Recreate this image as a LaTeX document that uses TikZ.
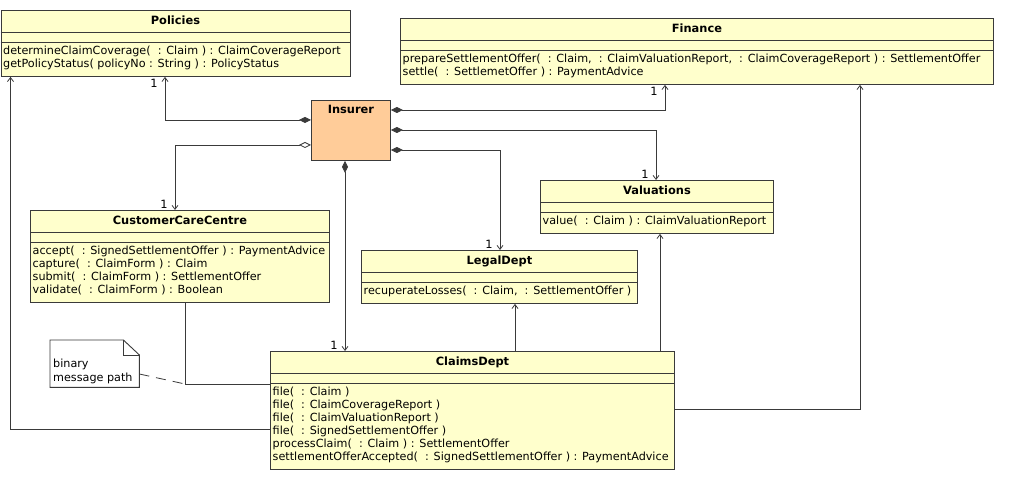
\documentclass[tikz,border=0pt]{standalone}
\usepackage{fontspec}
\setmainfont{DejaVu Sans}
\usetikzlibrary{arrows.meta,calc}

\definecolor{classfill}{HTML}{FFFFCC}
\definecolor{actorfill}{HTML}{FFCC99}
\definecolor{inkline}{HTML}{3A3A3A}

\tikzset{
  cls/.style={draw=inkline, fill=classfill, line width=0.9pt, rectangle,
    inner sep=0pt, anchor=north west},
  clstitle/.style={font=\fontsize{11.4}{13}\selectfont\bfseries, inner sep=0pt,
    text height=8.5pt, text depth=0pt},
  clsops/.style={font=\fontsize{11.2}{13.1}\selectfont, inner sep=0pt,
    anchor=north west, align=left},
  sepline/.style={draw=inkline, line width=0.9pt},
  link/.style={draw=inkline, line width=0.8pt},
  navtip/.style={link, -{Straight Barb[length=4pt,width=6pt]}},
  comp/.style={link, {Diamond[length=12pt,width=6pt,fill=inkline]}-{Straight Barb[length=4pt,width=6pt]}},
  aggr/.style={link, {Diamond[length=12pt,width=6pt,fill=white]}-{Straight Barb[length=4pt,width=6pt]}},
  mult/.style={font=\fontsize{11.4}{13}\selectfont, inner sep=1pt, text height=8.3pt, text depth=0pt},
  notebox/.style={draw=inkline, fill=white, line width=0.9pt},
}

% class box: name, x, y, width, number of operations, title, operations
\newcommand{\umlclass}[7]{%
  \node[cls, minimum width=#4pt, minimum height=40pt+13pt*#5] (#1) at (#2,#3) {};
  \node[clstitle] (#1-title) at ([yshift=-10pt]#1.north) {#6};
  \draw[sepline] ([yshift=-22pt]#1.north west) -- ([yshift=-22pt]#1.north east);
  \draw[sepline] ([yshift=-32pt]#1.north west) -- ([yshift=-32pt]#1.north east);
  \node[clsops] (#1-ops) at ([xshift=2.5pt,yshift=-34.5pt]#1.north west) {\rule{0pt}{9.5pt}#7};
}

\begin{document}
\begin{tikzpicture}[x=1pt,y=-1pt]
\useasboundingbox (0,0) rectangle (1013,478);

\umlclass{pol}{0.5}{10}{349}{2}{Policies}{%
determineClaimCoverage(~~: Claim ) : ClaimCoverageReport\\
getPolicyStatus( policyNo : String ) : PolicyStatus}

\umlclass{fin}{400}{18}{593}{2}{Finance}{%
prepareSettlementOffer(~~: Claim,~~: ClaimValuationReport,~~: ClaimCoverageReport ) : SettlementOffer\\
settle(~~: SettlemetOffer ) : PaymentAdvice}

\umlclass{val}{540}{180}{233}{1}{Valuations}{%
value(~~: Claim ) : ClaimValuationReport}

\umlclass{ccc}{30}{210}{299}{4}{CustomerCareCentre}{%
accept(~~: SignedSettlementOffer ) : PaymentAdvice\\
capture(~~: ClaimForm ) : Claim\\
submit(~~: ClaimForm ) : SettlementOffer\\
validate(~~: ClaimForm ) : Boolean}

\umlclass{leg}{361}{250}{276}{1}{LegalDept}{%
recuperateLosses(~~: Claim,~~: SettlementOffer )}

\umlclass{clm}{270}{351}{404}{6}{ClaimsDept}{%
file(~~: Claim )\\
file(~~: ClaimCoverageReport )\\
file(~~: ClaimValuationReport )\\
file(~~: SignedSettlementOffer )\\
processClaim(~~: Claim ) : SettlementOffer\\
settlementOfferAccepted(~~: SignedSettlementOffer ) : PaymentAdvice}

% the actor class
\node[cls, fill=actorfill, minimum width=79pt, minimum height=60pt] (ins) at (311,100) {};
\node[clstitle] (ins-title) at ([yshift=-9.5pt]ins.north) {Insurer};

% note with folded corner
\node[inner sep=0pt, minimum width=89pt, minimum height=47pt, anchor=north west] (note) at (50,340) {};
\draw[notebox] (note.north west) -- ([xshift=-16pt]note.north east)
  -- ([yshift=-15pt]note.north east) -- (note.south east) -- (note.south west) -- cycle;
\draw[sepline] ([xshift=-16pt]note.north east) -- ([xshift=-16pt,yshift=-15pt]note.north east)
  -- ([yshift=-15pt]note.north east);
\node[clsops, font=\fontsize{11.2}{13.5}\selectfont] (note-text) at ([xshift=3pt,yshift=-18pt]note.north west)
  {\rule{0pt}{9.5pt}binary\\message path};

% compositions and the aggregation held by Insurer
\draw[comp] ([yshift=-20pt]ins.north west) -| ([xshift=164.5pt]pol.south west)
  node[mult, at end, anchor=north east, xshift=-6pt, yshift=-1pt] (m-pol) {1};
\draw[comp] ([yshift=-10pt]ins.north east) -| ([xshift=265pt]fin.south west)
  node[mult, at end, anchor=north east, xshift=-6pt, yshift=-1pt] (m-fin) {1};
\draw[comp] ([yshift=-30pt]ins.north east) -| ([xshift=116pt]val.north west)
  node[mult, at end, anchor=south east, xshift=-6pt] (m-val) {1};
\draw[comp] ([yshift=-50pt]ins.north east) -| ([xshift=139pt]leg.north west)
  node[mult, at end, anchor=south east, xshift=-6pt] (m-leg) {1};
\draw[aggr] ([yshift=-45pt]ins.north west) -| ([xshift=145pt]ccc.north west)
  node[mult, at end, anchor=south east, xshift=-6pt] (m-ccc) {1};
\draw[comp] ([xshift=34pt]ins.south west) -- ([xshift=75pt]clm.north west)
  node[mult, at end, anchor=south east, xshift=-6pt] (m-clm) {1};

% navigations from ClaimsDept
\draw[navtip] ([yshift=-78pt]clm.north west) -| ([xshift=10pt]pol.south west);
\draw[navtip] ([yshift=-58pt]clm.north east) -| ([xshift=460pt]fin.south west);
\draw[navtip] ([xshift=390pt]clm.north west) -- ([xshift=120pt]val.south west);
\draw[navtip] ([xshift=245pt]clm.north west) -- ([xshift=154pt]leg.south west);

% binary message path between CustomerCareCentre and ClaimsDept
\draw[link] ([xshift=155pt]ccc.south west) |- coordinate[pos=0.5] (bend) ([yshift=-33pt]clm.north west);
\draw[link, dash pattern=on 10pt off 7pt] ([yshift=-34pt]note.north east) -- (bend);

\end{tikzpicture}
\end{document}
